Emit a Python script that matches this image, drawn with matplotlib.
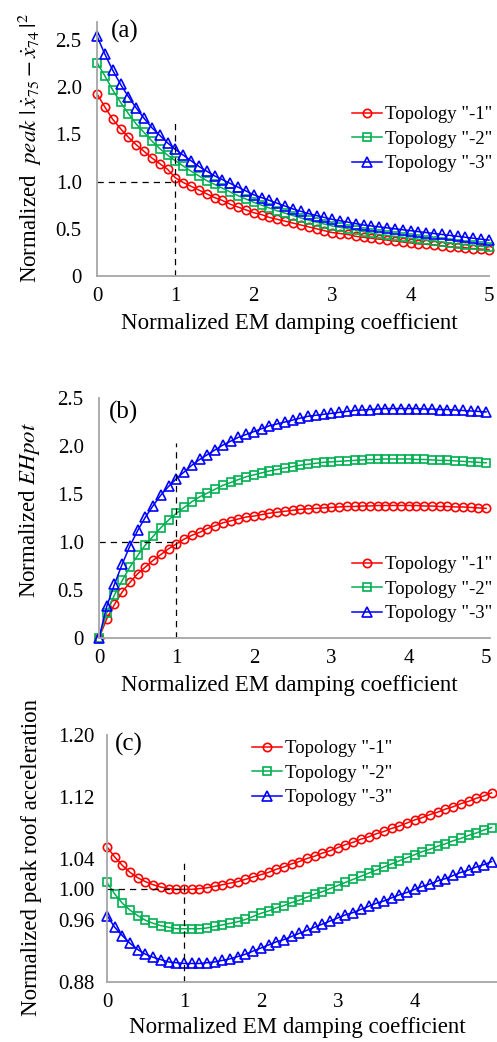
import numpy as np
import matplotlib.pyplot as plt

plt.rcParams['font.family'] = ['Liberation Serif', 'DejaVu Serif']
plt.rcParams['mathtext.fontset'] = 'stix'

# normalized EM damping coefficient, sampled every 0.1
x = np.linspace(0, 5, 51)
labels = ['Topology "-1"', 'Topology "-2"', 'Topology "-3"']

# (a) normalized peak |x75' - x74'|^2
a1 = [1.93, 1.79, 1.66, 1.56, 1.47, 1.39, 1.32, 1.25, 1.19, 1.13, 1.04,
      0.99, 0.95, 0.91, 0.87, 0.83, 0.80, 0.76, 0.73, 0.70, 0.67,
      0.65, 0.62, 0.60, 0.58, 0.56, 0.54, 0.52, 0.50, 0.48, 0.46,
      0.45, 0.44, 0.42, 0.41, 0.40, 0.39, 0.38, 0.37, 0.36, 0.35,
      0.34, 0.335, 0.33, 0.32, 0.31, 0.305, 0.30, 0.29, 0.285, 0.28]
a2 = [2.26, 2.12, 1.97, 1.84, 1.72, 1.61, 1.52, 1.43, 1.35, 1.28, 1.22,
      1.165, 1.11, 1.06, 1.01, 0.97, 0.93, 0.89, 0.85, 0.815, 0.78,
      0.75, 0.72, 0.69, 0.665, 0.64, 0.615, 0.59, 0.57, 0.55, 0.53,
      0.515, 0.50, 0.485, 0.47, 0.455, 0.44, 0.43, 0.42, 0.41, 0.40,
      0.39, 0.38, 0.37, 0.36, 0.35, 0.34, 0.33, 0.325, 0.315, 0.31]
a3 = [2.54, 2.35, 2.18, 2.03, 1.90, 1.78, 1.67, 1.57, 1.49, 1.41, 1.34,
      1.28, 1.22, 1.16, 1.11, 1.06, 1.02, 0.98, 0.94, 0.90, 0.86,
      0.83, 0.80, 0.77, 0.74, 0.71, 0.685, 0.66, 0.64, 0.62, 0.60,
      0.585, 0.57, 0.555, 0.54, 0.53, 0.52, 0.51, 0.50, 0.49, 0.48,
      0.47, 0.46, 0.45, 0.44, 0.43, 0.42, 0.41, 0.40, 0.39, 0.38]

# (b) normalized EHpot
b1 = [0.00, 0.20, 0.35, 0.48, 0.58, 0.67, 0.74, 0.81, 0.87, 0.93, 0.98,
      1.03, 1.07, 1.10, 1.14, 1.17, 1.20, 1.22, 1.24, 1.26, 1.27,
      1.285, 1.30, 1.31, 1.32, 1.33, 1.34, 1.345, 1.35, 1.355, 1.36,
      1.365, 1.37, 1.37, 1.375, 1.375, 1.38, 1.38, 1.38, 1.38, 1.38,
      1.38, 1.375, 1.375, 1.37, 1.37, 1.365, 1.365, 1.36, 1.355, 1.35]
b2 = [0.00, 0.26, 0.45, 0.60, 0.74, 0.86, 0.97, 1.06, 1.15, 1.23, 1.30,
      1.36, 1.42, 1.47, 1.51, 1.55, 1.59, 1.62, 1.65, 1.68, 1.70,
      1.72, 1.74, 1.755, 1.77, 1.785, 1.80, 1.81, 1.82, 1.83, 1.835,
      1.84, 1.845, 1.85, 1.855, 1.86, 1.86, 1.865, 1.865, 1.865, 1.865,
      1.86, 1.86, 1.855, 1.85, 1.85, 1.845, 1.84, 1.835, 1.83, 1.825]
b3 = [0.00, 0.33, 0.56, 0.77, 0.96, 1.12, 1.26, 1.38, 1.49, 1.58, 1.66,
      1.73, 1.80, 1.86, 1.91, 1.96, 2.01, 2.05, 2.09, 2.12, 2.15,
      2.18, 2.21, 2.23, 2.25, 2.27, 2.29, 2.31, 2.32, 2.33, 2.34,
      2.35, 2.36, 2.37, 2.375, 2.38, 2.385, 2.39, 2.39, 2.39, 2.39,
      2.39, 2.385, 2.385, 2.38, 2.38, 2.375, 2.37, 2.365, 2.36, 2.355]

# (c) normalized peak roof acceleration
c1 = [1.055, 1.042, 1.031, 1.022, 1.015, 1.010, 1.006, 1.003, 1.001, 1.000, 1.000,
      1.000, 1.001, 1.002, 1.004, 1.006, 1.008, 1.010, 1.013, 1.016, 1.019,
      1.022, 1.026, 1.029, 1.033, 1.036, 1.040, 1.043, 1.047, 1.050, 1.054,
      1.058, 1.061, 1.065, 1.068, 1.072, 1.075, 1.079, 1.082, 1.086, 1.090,
      1.093, 1.097, 1.100, 1.104, 1.107, 1.111, 1.114, 1.118, 1.121, 1.125]
c2 = [1.009, 0.994, 0.982, 0.973, 0.966, 0.960, 0.956, 0.953, 0.951, 0.949, 0.949,
      0.949, 0.949, 0.950, 0.952, 0.954, 0.956, 0.958, 0.961, 0.965, 0.969,
      0.972, 0.976, 0.979, 0.983, 0.986, 0.990, 0.994, 0.997, 1.001, 1.005,
      1.009, 1.013, 1.017, 1.021, 1.025, 1.029, 1.033, 1.037, 1.041, 1.045,
      1.049, 1.052, 1.056, 1.059, 1.063, 1.066, 1.070, 1.073, 1.077, 1.080]
c3 = [0.966, 0.951, 0.940, 0.930, 0.922, 0.916, 0.912, 0.909, 0.906, 0.905, 0.904,
      0.904, 0.904, 0.905, 0.906, 0.908, 0.910, 0.913, 0.916, 0.920, 0.924,
      0.928, 0.932, 0.935, 0.939, 0.943, 0.947, 0.951, 0.955, 0.959, 0.963,
      0.967, 0.970, 0.974, 0.978, 0.982, 0.985, 0.989, 0.993, 0.996, 1.000,
      1.004, 1.007, 1.011, 1.014, 1.018, 1.022, 1.025, 1.029, 1.032, 1.036]

colors = ['#ff0000', '#00b050', '#0000ff']
markers = ['o', 's', '^']
msizes = [6, 5.5, 6.5]

W, H = 497, 1042
fig = plt.figure(figsize=(W / 100, H / 100), dpi=100)


def px_axes(l, r, b, t):
    return fig.add_axes([l / W, 1 - b / H, (r - l) / W, (b - t) / H])


def style(ax):
    for s in ['top', 'right']:
        ax.spines[s].set_visible(False)
    for s in ['left', 'bottom']:
        ax.spines[s].set_color('#a6a6a6')
        ax.spines[s].set_linewidth(1.3)
    ax.tick_params(length=0, labelsize=15)
    ax.tick_params(axis='y', pad=11)
    ax.tick_params(axis='x', pad=8)


def curves(ax, series):
    for ys, c, m, ms, lab in zip(series, colors, markers, msizes, labels):
        ax.plot(x, ys, color=c, lw=1.1, marker=m, ms=ms, mfc='none',
                mec=c, mew=1.2, label=lab, clip_on=False)


def legend(ax, left, top):
    ax.legend(loc='upper left', bbox_to_anchor=(left / W, 1 - top / H),
              bbox_transform=fig.transFigure, frameon=False, fontsize=13.5,
              borderpad=0, borderaxespad=0, handlelength=1.6,
              handletextpad=0.15, labelspacing=0.4, numpoints=1)


dash = dict(color='black', lw=0.9, ls=(0, (5, 4)))

# (a)
ax = px_axes(97, 489, 276, 22)
curves(ax, [a1, a2, a3])
ax.plot([0, 1], [1, 1], **dash)
ax.plot([1, 1], [0, 1.63], **dash)
ax.set_xlim(0, 5.0)
ax.set_ylim(0, 2.69)
ax.set_xticks(range(6))
ax.set_yticks([0, 0.5, 1.0, 1.5, 2.0, 2.5])
ax.set_yticklabels(['0', '0.5', '1.0', '1.5', '2.0', '2.5'])
style(ax)
legend(ax, 352, 106)

# (b)
ax = px_axes(99, 490, 638, 398)
curves(ax, [b1, b2, b3])
ax.plot([0, 1], [1, 1], **dash)
ax.plot([1, 1], [0, 2.03], **dash)
ax.set_xlim(0, 5.05)
ax.set_ylim(0, 2.5)
ax.set_xticks(range(6))
ax.set_yticks([0, 0.5, 1.0, 1.5, 2.0, 2.5])
ax.set_yticklabels(['0', '0.5', '1.0', '1.5', '2.0', '2.5'])
style(ax)
legend(ax, 352, 556)

# (c)
ax = px_axes(107, 497, 982, 735)
curves(ax, [c1, c2, c3])
ax.plot([0, 1], [1, 1], **dash)
ax.plot([1, 1], [0.88, 1.039], **dash)
ax.set_xlim(0, 5.07)
ax.set_ylim(0.88, 1.20)
ax.set_xticks(range(5))
ax.set_yticks([0.88, 0.96, 1.00, 1.04, 1.12, 1.20])
ax.set_yticklabels(['0.88', '0.96', '1.00', '1.04', '1.12', '1.20'])
style(ax)
ax.tick_params(axis='y', pad=9)
legend(ax, 252, 740)

# axis titles and panel tags
xl = 'Normalized EM damping coefficient'
fig.text(289 / W, 1 - 323 / H, xl, ha='center', va='center', fontsize=16.5)
fig.text(289 / W, 1 - 685 / H, xl, ha='center', va='center', fontsize=16.5)
fig.text(297 / W, 1 - 1027 / H, xl, ha='center', va='center', fontsize=16.5)

fig.text(30 / W, 1 - 148 / H,
         r'Normalized  $peak\ |\,\dot{x}_{75}-\dot{x}_{74}\,|^{2}$',
         rotation=90, ha='center', va='center', fontsize=16.5)
fig.text(30 / W, 1 - 510 / H, r'Normalized $EHpot$',
         rotation=90, ha='center', va='center', fontsize=16.5)
fig.text(32 / W, 1 - 858 / H, 'Normalized peak roof acceleration',
         rotation=90, ha='center', va='center', fontsize=16.5)

fig.text(125 / W, 1 - 31 / H, '(a)', ha='center', va='center', fontsize=18)
fig.text(124 / W, 1 - 412 / H, '(b)', ha='center', va='center', fontsize=18)
fig.text(129 / W, 1 - 744 / H, '(c)', ha='center', va='center', fontsize=18)

fig.savefig('out.png', dpi=100)
